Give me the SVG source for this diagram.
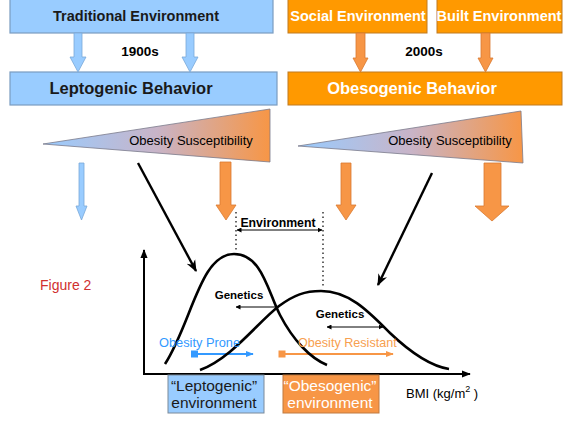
<svg xmlns="http://www.w3.org/2000/svg" width="576" height="432" viewBox="0 0 576 432">
<defs>
<linearGradient id="tri" x1="0" y1="0" x2="1" y2="0">
<stop offset="0" stop-color="#99CCFF"/>
<stop offset="0.5" stop-color="#C8B4C8"/>
<stop offset="1" stop-color="#F79646"/>
</linearGradient>
<marker id="ah" viewBox="0 0 10 10" refX="9" refY="5" markerWidth="5" markerHeight="5" orient="auto-start-reverse" markerUnits="userSpaceOnUse">
<path d="M0,0 L10,5 L0,10 z" fill="#000"/>
</marker>
<marker id="ahBig" viewBox="0 0 10 10" refX="9" refY="5" markerWidth="12" markerHeight="12" orient="auto" markerUnits="userSpaceOnUse">
<path d="M0,1 L10,5 L0,9 L3,5 z" fill="#000"/>
</marker>
<marker id="ahAx" viewBox="0 0 10 10" refX="9" refY="5" markerWidth="9" markerHeight="9" orient="auto" markerUnits="userSpaceOnUse">
<path d="M0,1 L10,5 L0,9 z" fill="#000"/>
</marker>
<marker id="ahB" viewBox="0 0 10 10" refX="9" refY="5" markerWidth="8" markerHeight="8" orient="auto" markerUnits="userSpaceOnUse">
<path d="M0,1 L10,5 L0,9 z" fill="#3399FF"/>
</marker>
<marker id="ahO" viewBox="0 0 10 10" refX="9" refY="5" markerWidth="8" markerHeight="8" orient="auto" markerUnits="userSpaceOnUse">
<path d="M0,1 L10,5 L0,9 z" fill="#F79646"/>
</marker>
</defs>
<style>
text{font-family:"Liberation Sans",Arial,sans-serif}
.bluebox{fill:#99CCFF;stroke:#7A9CC0;stroke-width:1.2}
.orgbox{fill:#FF9900;stroke:#C07A20;stroke-width:1}
.barB{fill:#99CCFF;stroke:#7AA8D8;stroke-width:0.8}
.barO{fill:#F79646;stroke:#D97A30;stroke-width:0.8}
.hd{font-weight:bold;font-size:14.5px}
.big{font-weight:bold;font-size:16.5px}
.curve{fill:none;stroke:#000;stroke-width:2.6}
.dot{stroke:#000;stroke-width:1.2;stroke-dasharray:1.5 3}
.thin{stroke:#000;stroke-width:1;fill:none}
</style>
<rect width="576" height="432" fill="#fff"/>

<g id="traditional-environment">
<rect class="bluebox" x="10" y="-2" width="263" height="35"/>
<text class="hd" x="136" y="21" text-anchor="middle" fill="#1a1a1a">Traditional  Environment</text>
</g>
<g id="social-environment">
<rect class="orgbox" x="288" y="-2" width="139" height="35"/>
<text class="hd" x="358" y="21" text-anchor="middle" fill="#fff">Social Environment</text>
</g>
<g id="built-environment">
<rect class="orgbox" x="437" y="-2" width="125" height="35"/>
<text class="hd" x="499" y="21" text-anchor="middle" fill="#fff">Built Environment</text>
</g>
<g id="leptogenic-behavior">
<rect class="bluebox" x="10" y="72" width="267" height="33"/>
<text class="big" x="131" y="94" text-anchor="middle" fill="#1a1a1a">Leptogenic  Behavior</text>
</g>
<g id="obesogenic-behavior">
<rect class="orgbox" x="288" y="72" width="274" height="33"/>
<text class="big" x="412" y="94" text-anchor="middle" fill="#fff">Obesogenic  Behavior</text>
</g>
<g id="label-1900s"><text x="140" y="56" font-size="13.5" font-weight="bold" text-anchor="middle">1900s</text></g>
<g id="label-2000s"><text x="424" y="56" font-size="13.5" font-weight="bold" text-anchor="middle">2000s</text></g>

<g id="susceptibility-left">
<polygon points="43,144 270,109 270,162" fill="url(#tri)" stroke="#7A7A8A" stroke-width="0.8"/>
<text x="191" y="145" font-size="13" text-anchor="middle">Obesity Susceptibility</text>
</g>
<g id="susceptibility-right">
<polygon points="298,146 521,111 523,163" fill="url(#tri)" stroke="#7A7A8A" stroke-width="0.8"/>
<text x="450" y="145" font-size="13" text-anchor="middle">Obesity Susceptibility</text>
</g>

<g id="block-arrows">
<polygon class="barB" points="74,33 82,33 82,57 86,57 78,72 70,57 74,57"/>
<polygon class="barB" points="186,33 194,33 194,57 198,57 190,72 182,57 186,57"/>
<polygon class="barO" points="356,33 365,33 365,58 368,58 360.5,72 353,58 356,58"/>
<polygon class="barO" points="481,33 490,33 490,58 493,58 485.5,72 478,58 481,58"/>
<polygon class="barB" points="79,163 84,163 84,206 87,206 81.5,220 76,206 79,206"/>
<polygon class="barO" points="220,162 231,162 231,205 236,205 226,220 216,205 220,205"/>
<polygon class="barO" points="341,163 351,163 351,205 356,205 346,220 336,205 341,205"/>
<polygon class="barO" points="484,163 501,163 501,206 509,206 492,221 475,206 484,206"/>
</g>

<g id="connectors">
<line x1="138" y1="163" x2="196" y2="271" stroke="#000" stroke-width="2.4" marker-end="url(#ahBig)"/>
<line x1="432" y1="173" x2="378" y2="285" stroke="#000" stroke-width="2.4" marker-end="url(#ahBig)"/>
<line class="dot" x1="236" y1="212" x2="236" y2="252"/>
<line class="dot" x1="323" y1="212" x2="323" y2="288"/>
<line class="thin" x1="237" y1="230" x2="322" y2="230" marker-start="url(#ah)" marker-end="url(#ah)"/>
<line class="thin" x1="277" y1="307" x2="236" y2="307" marker-end="url(#ah)"/>
<line class="thin" x1="327" y1="327" x2="383" y2="327" marker-start="url(#ah)" marker-end="url(#ah)"/>
<line x1="144" y1="374" x2="144" y2="250" stroke="#000" stroke-width="2" marker-end="url(#ahAx)"/>
<line x1="143" y1="374" x2="470" y2="374" stroke="#000" stroke-width="2" marker-end="url(#ahAx)"/>
<line x1="192" y1="354" x2="253" y2="354" stroke="#3399FF" stroke-width="2" marker-end="url(#ahB)"/>
<rect x="191" y="350.5" width="7" height="7" fill="#3399FF"/>
<line x1="282" y1="354" x2="393" y2="354" stroke="#F79646" stroke-width="2" marker-end="url(#ahO)"/>
<rect x="278.5" y="350.5" width="7" height="7" fill="#F79646"/>
</g>

<g id="curves">
<path class="curve" d="M165,364 C192,322 200,254 234,254 C262,254 268,292 280,315 C293,340 310,358 327,365"/>
<path class="curve" d="M200,370 C232,358 258,322 279,306 C294,295 305,291 321,291 C350,291 370,313 390,333 C410,352 430,366 449,369"/>
</g>

<g id="labels">
<text x="278" y="227" font-size="12.3" font-weight="bold" text-anchor="middle">Environment</text>
<text x="239" y="299" font-size="11.5" font-weight="bold" text-anchor="middle">Genetics</text>
<text x="340" y="318" font-size="11.5" font-weight="bold" text-anchor="middle">Genetics</text>
<text x="159" y="347" font-size="12.8" fill="#3399FF">Obesity Prone</text>
<text x="298" y="347" font-size="12.6" fill="#F7A050">Obesity Resistant</text>
<text x="40" y="290" font-size="14" fill="#D03030">Figure 2</text>
<text x="406" y="398" font-size="13">BMI (kg/m<tspan font-size="9" dy="-6">2</tspan><tspan dy="6"> )</tspan></text>
</g>

<g id="leptogenic-environment">
<rect x="168" y="375" width="96" height="38" fill="#99CCFF" stroke="#7A8A9A" stroke-width="1"/>
<text x="214" y="391" font-size="15.5" text-anchor="middle" fill="#1a1a1a">“Leptogenic”</text>
<text x="214" y="408" font-size="15.5" text-anchor="middle" fill="#1a1a1a">environment</text>
</g>
<g id="obesogenic-environment">
<rect x="283" y="375" width="96" height="38" fill="#F79646" stroke="#C07A40" stroke-width="1"/>
<text x="330" y="391" font-size="15.5" text-anchor="middle" fill="#fff">“Obesogenic”</text>
<text x="330" y="408" font-size="15.5" text-anchor="middle" fill="#fff">environment</text>
</g>
</svg>
